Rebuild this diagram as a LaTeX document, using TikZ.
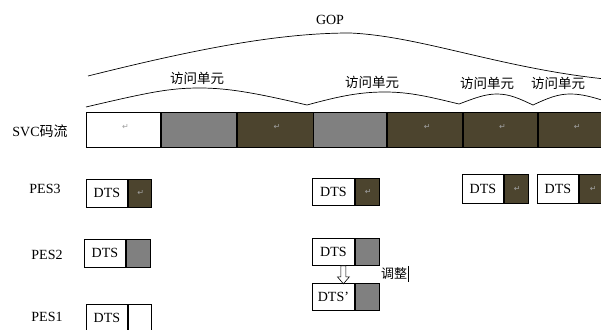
\documentclass[tikz,border=0pt]{standalone}
\usepackage{fontspec}
\setmainfont{Liberation Serif}
\newfontfamily\cjk{Noto Sans CJK SC}
\newfontfamily\symf{DejaVu Sans}
\definecolor{darkolive}{RGB}{76,68,46}
\definecolor{midgray}{RGB}{128,128,128}
\definecolor{markgray}{RGB}{160,160,160}
\begin{document}
\begin{tikzpicture}[x=1pt,y=-1pt,
  seg/.style={draw, line width=0.8pt, minimum height=35pt, inner sep=0pt, anchor=north west},
  dtsbox/.style={draw, line width=0.8pt, fill=white, inner sep=0pt, anchor=north west, minimum width=41pt, font=\fontsize{14}{14}\selectfont},
  paybox/.style={draw, line width=0.8pt, inner sep=0pt, anchor=north west},
  pmark/.style={text=markgray, font=\symf\fontsize{8}{8}\selectfont, inner sep=0pt},
  rowlabel/.style={font=\fontsize{14}{14}\selectfont, inner sep=0pt},
  aulabel/.style={font=\cjk\fontsize{13.5}{13.5}\selectfont, inner sep=0pt},
  brace/.style={line width=0.7pt}
]
\useasboundingbox (0,0) rectangle (601,329);
\clip (0,0) rectangle (601,329);

% GOP curve and label
\node[font=\fontsize{14}{14}\selectfont, inner sep=0pt] (gop) at (330,20) {GOP};
\draw[brace] (88,76) .. controls (200,48) and (280,33) .. (350,33)
  .. controls (420,36) and (500,68) .. (605,79);

% access unit curves
\draw[brace] (86,107) .. controls (150,92) and (170,88) .. (200,88)
  .. controls (230,88) and (260,94) .. (307,105)
  .. controls (340,96) and (360,92) .. (385,92)
  .. controls (410,92) and (430,97) .. (459,104)
  .. controls (475,98) and (485,94) .. (497,94)
  .. controls (510,94) and (520,99) .. (533,105)
  .. controls (548,98) and (558,94) .. (570,94)
  .. controls (582,94) and (592,97) .. (605,101);
\node[aulabel] (au1) at (197,78) {访问单元};
\node[aulabel] (au2) at (372,82) {访问单元};
\node[aulabel] (au3) at (487,83) {访问单元};
\node[aulabel] (au4) at (558,83) {访问单元};

% SVC stream
\node[rowlabel] (svc) at (40,131) {SVC\cjk 码流};
\node[seg, fill=white, minimum width=74pt] (s1) at (86,112) {};
\node[seg, fill=midgray, minimum width=75pt] (s2) at (s1.north east) {};
\node[seg, fill=darkolive, minimum width=76pt] (s3) at (s2.north east) {};
\node[seg, fill=midgray, minimum width=73pt] (s4) at (s3.north east) {};
\node[seg, fill=darkolive, minimum width=75pt] (s5) at (s4.north east) {};
\node[seg, fill=darkolive, minimum width=74pt] (s6) at (s5.north east) {};
\node[seg, fill=darkolive, minimum width=74pt] (s7) at (s6.north east) {};
\node[pmark] (m1) at ([xshift=2pt,yshift=3pt]s1.center) {↵};
\node[pmark] (m3) at ([xshift=2pt,yshift=3pt]s3.center) {↵};
\node[pmark] (m5) at ([xshift=2pt,yshift=3pt]s5.center) {↵};
\node[pmark] (m6) at ([xshift=2pt,yshift=3pt]s6.center) {↵};
\node[pmark] (m7) at ([xshift=2pt,yshift=3pt]s7.center) {↵};

% row labels
\node[rowlabel] (pes3) at (45,189) {PES3};
\node[rowlabel] (pes2) at (47,255) {PES2};
\node[rowlabel] (pes1) at (47,317) {PES1};

% left column
\node[dtsbox, minimum height=28pt] (l3d) at (86,179) {DTS};
\node[paybox, fill=darkolive, minimum width=23pt, minimum height=28pt] (l3p) at (l3d.north east) {};
\node[pmark] (l3m) at ([xshift=1pt]l3p.center) {↵};
\node[dtsbox, minimum height=28pt] (l2d) at (84,239) {DTS};
\node[paybox, fill=midgray, minimum width=24pt, minimum height=28pt] (l2p) at (l2d.north east) {};
\node[dtsbox, minimum height=28pt] (l1d) at (86,304) {DTS};
\node[paybox, fill=white, minimum width=23pt, minimum height=28pt] (l1p) at (l1d.north east) {};

% middle column
\node[dtsbox, minimum width=42pt, minimum height=27pt] (m3d) at (312,178) {DTS};
\node[paybox, fill=darkolive, minimum width=24pt, minimum height=27pt] (m3p) at (m3d.north east) {};
\node[pmark] (m3m) at ([xshift=1pt]m3p.center) {↵};
\node[dtsbox, minimum width=42pt, minimum height=27pt] (m2d) at (312,238) {DTS};
\node[paybox, fill=midgray, minimum width=24pt, minimum height=27pt] (m2p) at (m2d.north east) {};
\node[dtsbox, minimum width=42pt, minimum height=27pt] (m1d) at (312,283) {DTS'};
\node[paybox, fill=midgray, minimum width=24pt, minimum height=27pt] (m1p) at (m1d.north east) {};

% adjust arrow (hollow, from upper packet to adjusted packet)
\coordinate (atop) at ([xshift=10pt]m2d.south);
\draw[line width=0.6pt, fill=white] (atop) ++(-2.5,0) -- ++(0,11) -- ++(-3.5,0) -- ++(6,7)
  -- ++(6,-7) -- ++(-3.5,0) -- ++(0,-11) -- cycle;
\node[font=\cjk\fontsize{13}{13}\selectfont, inner sep=0pt] (tz) at (394,274) {调整};
\draw[line width=0.6pt] ([xshift=1.5pt,yshift=2pt]tz.north east) -- ([xshift=1.5pt,yshift=-2pt]tz.south east);

% right column
\node[dtsbox, minimum height=29pt] (r1d) at (462,174) {DTS};
\node[paybox, fill=darkolive, minimum width=24pt, minimum height=29pt] (r1p) at (r1d.north east) {};
\node[pmark] (r1m) at ([xshift=1pt]r1p.center) {↵};
\node[dtsbox, minimum height=29pt] (r2d) at (537,174) {DTS};
\node[paybox, fill=darkolive, minimum width=26pt, minimum height=29pt] (r2p) at (r2d.north east) {};
\node[pmark] (r2m) at ([xshift=1pt]r2p.center) {↵};
\end{tikzpicture}
\end{document}
